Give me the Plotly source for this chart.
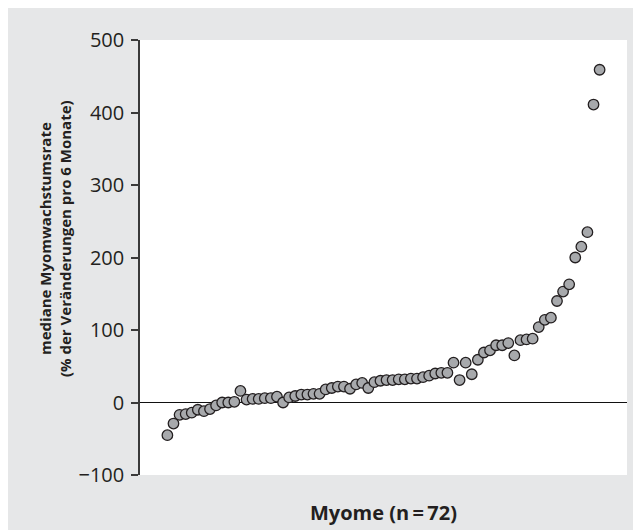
import plotly.graph_objects as go

# Data (median fibroid growth rate per fibroid, sorted)
myom_index = list(range(1, 73))
growth_rate = [-45, -29, -17, -16, -14, -10, -12, -9, -4, 0,
               0, 1, 16, 4, 5, 5, 6, 6, 8, 0,
               7, 9, 11, 11, 12, 12, 18, 20, 22, 22,
               19, 25, 27, 20, 28, 30, 31, 31, 32, 32,
               33, 33, 35, 37, 40, 41, 41, 55, 31, 55,
               39, 59, 69, 72, 79, 79, 82, 65, 86, 87,
               88, 104, 114, 117, 140, 153, 163, 200, 215, 235,
               411, 459]
y_ticks = [-100, 0, 100, 200, 300, 400, 500]

y_title_1 = "mediane Myomwachstumsrate"
y_title_2 = "(% der Veränderungen pro 6 Monate)"
x_title = "Myome (n\u2009=\u200972)"

DARK = "#231f20"
BG = "#e6e7e8"
FONT = "Open Sans"

W, H = 641, 530
L, R, T, B = 132, 22, 32, 63
pw, ph = W - L - R, H - T - B

def px_x(px):
    return (px - L) / pw

def px_y(py):
    return 1 - (py - T) / ph

fig = go.Figure()
fig.add_trace(go.Scatter(
    x=myom_index, y=growth_rate, mode="markers",
    marker=dict(size=10.5, color="#a7a9ac", line=dict(color=DARK, width=1.3)),
    hoverinfo="skip", showlegend=False,
))

fig.update_layout(
    width=W, height=H,
    margin=dict(l=L, r=R, t=T, b=B, pad=0),
    paper_bgcolor=BG, plot_bgcolor="white",
    font=dict(family=FONT, color=DARK),
    xaxis=dict(range=[-3.5, 76.5], visible=False, showgrid=False, zeroline=False),
    yaxis=dict(range=[-100, 500], tickvals=y_ticks, showgrid=False,
               zeroline=True, zerolinecolor="#111111", zerolinewidth=1.3,
               showline=True, linecolor="#3a3a3a", linewidth=1.5,
               ticks="outside", ticklen=7, tickwidth=1.5, tickcolor="#3a3a3a",
               ticklabelstandoff=3,
               tickfont=dict(family=FONT, size=20, color=DARK)),
    annotations=[
        dict(text=y_title_1, xref="paper", yref="paper",
             x=px_x(37), y=px_y(231), xanchor="center", yanchor="middle",
             textangle=-90, showarrow=False,
             font=dict(family=FONT, size=15, color=DARK, weight="bold")),
        dict(text=y_title_2, xref="paper", yref="paper",
             x=px_x(57), y=px_y(231), xanchor="center", yanchor="middle",
             textangle=-90, showarrow=False,
             font=dict(family=FONT, size=15, color=DARK, weight="bold")),
        dict(text=x_title, xref="paper", yref="paper",
             x=0.5, y=px_y(504), xanchor="center", yanchor="middle",
             showarrow=False,
             font=dict(family=FONT, size=20, color=DARK, weight="bold")),
    ],
)

fig.write_html("out.html")
